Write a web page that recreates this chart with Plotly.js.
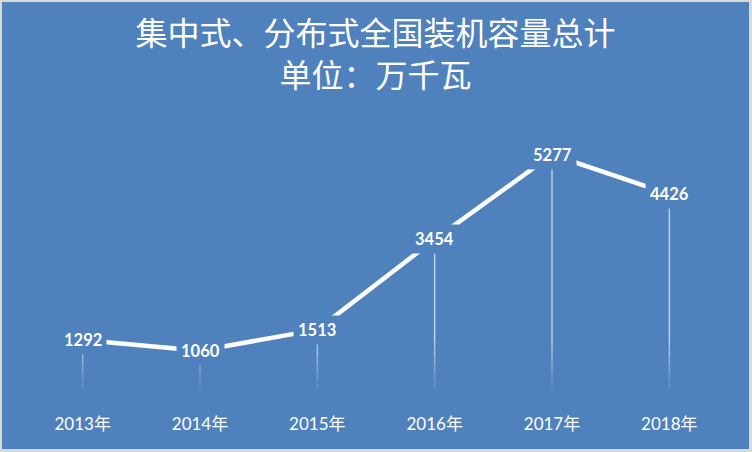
<!DOCTYPE html>
<html>
<head>
<meta charset="utf-8">
<script src="https://cdn.plot.ly/plotly-3.0.1.min.js"></script>
<style>
  html, body { margin: 0; padding: 0; background: #d9d9d9; width: 752px; height: 452px; overflow: hidden; }
  #chart { position: absolute; left: 2px; top: 2px; width: 747px; height: 447px; }
</style>
</head>
<body>
<div id="chart"></div>
<script>
// 集中式、分布式全国装机容量总计（万千瓦）
const years = ['2013年', '2014年', '2015年', '2016年', '2017年', '2018年'];
const capacity = [1292, 1060, 1513, 3454, 5277, 4426];

const BLUE = '#4f81bd';
const idx = years.map((_, i) => i);

// vertical drop lines from each point to the axis
const dropX = [], dropY = [];
idx.forEach((i) => { dropX.push(i, i, null); dropY.push(capacity[i], 0, null); });

const traces = [
  {
    x: dropX, y: dropY, mode: 'lines', hoverinfo: 'skip',
    line: { color: 'rgba(255,255,255,0.62)', width: 1.5 }
  },
  {
    // soft fade of the drop lines toward the axis
    x: [-0.5, 5.5], y: [1350, 1350], mode: 'none', fill: 'tozeroy', hoverinfo: 'skip',
    fillgradient: {
      type: 'vertical',
      colorscale: [[0, 'rgba(79,129,189,1)'], [0.08, 'rgba(79,129,189,1)'], [1, 'rgba(79,129,189,0)']]
    }
  },
  {
    x: idx, y: capacity, mode: 'lines',
    line: { color: '#ffffff', width: 4.5 }
  }
];

const labels = idx.map((i) => ({
  x: i, y: capacity[i], xref: 'x', yref: 'y',
  text: String(capacity[i]), showarrow: false,
  bgcolor: BLUE, borderpad: 4,
  font: { family: 'Lato, "Liberation Sans", sans-serif', size: 16.5, color: '#ffffff', weight: 'bold' }
}));

const layout = {
  width: 747, height: 447,
  paper_bgcolor: BLUE, plot_bgcolor: BLUE,
  margin: { l: 22, r: 21, t: 119, b: 49 },
  showlegend: false,
  title: {
    text: '集中式、分布式全国装机容量总计<br>单位：万千瓦',
    x: 0.5, xanchor: 'center', xref: 'container',
    y: 1 - 43 / 447, yanchor: 'middle', yref: 'container',
    font: { family: '"Noto Sans CJK SC", sans-serif', size: 32, color: '#ffffff' }
  },
  xaxis: {
    range: [-0.5, 5.5], tickvals: idx, ticktext: years,
    showgrid: false, zeroline: false, showline: false, ticks: '',
    ticklabelstandoff: 12,
    tickfont: { family: 'Lato, "Noto Sans CJK SC", sans-serif', size: 17, color: '#ffffff' },
    fixedrange: true
  },
  yaxis: {
    range: [0, 6000], visible: false, fixedrange: true
  },
  annotations: labels
};

Plotly.newPlot('chart', traces, layout, { displayModeBar: false, staticPlot: true });
</script>
</body>
</html>
